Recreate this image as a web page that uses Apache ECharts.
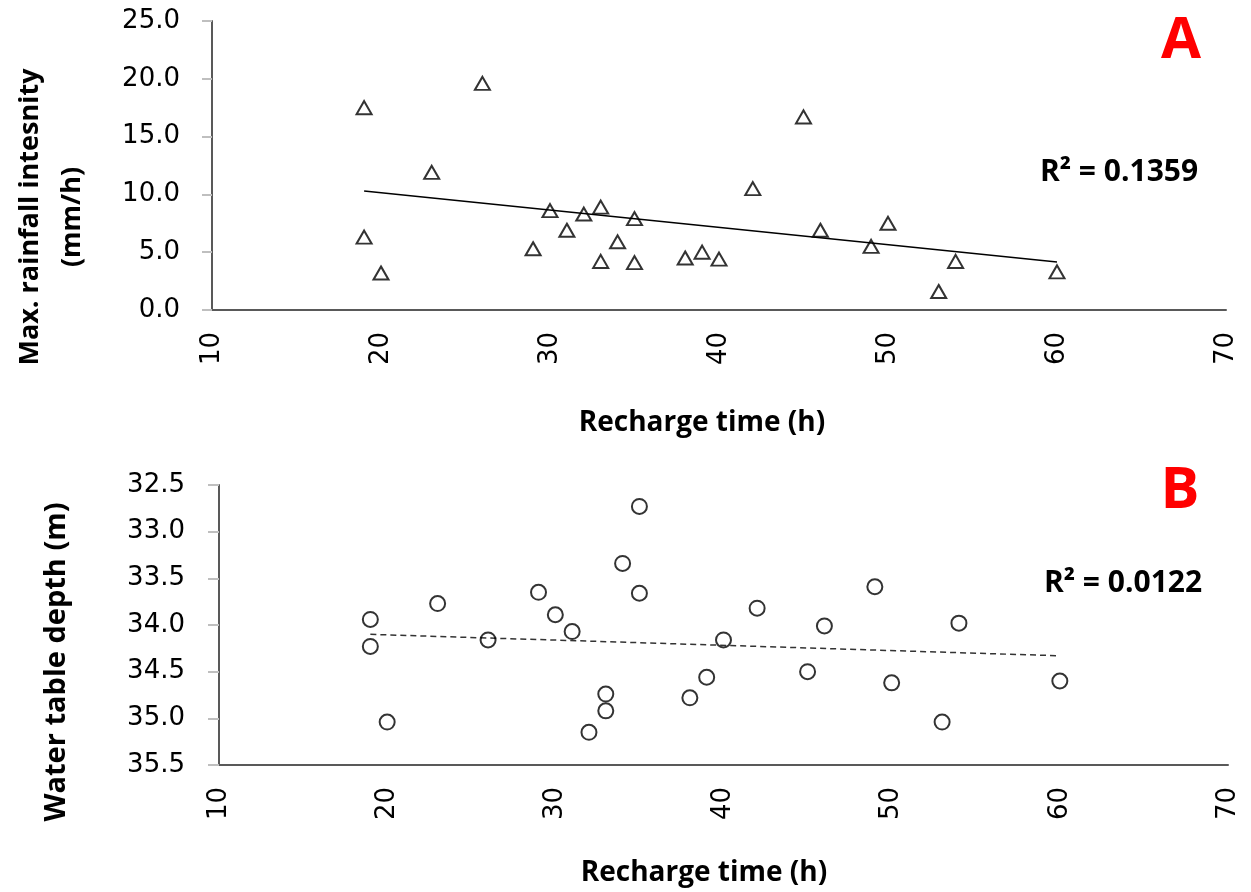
<!DOCTYPE html>
<html>
<head>
<meta charset="utf-8">
<script src="https://cdn.jsdelivr.net/npm/echarts@6/dist/echarts.min.js"></script>
<style>
  html, body { margin: 0; padding: 0; background: #fff; }
  #chart { width: 1251px; height: 892px; }
</style>
</head>
<body>
<div id="chart"></div>
<script>
// ---- Data ----
const rainX = [19, 19, 20, 23, 26, 29, 30, 31, 32, 33, 33, 34, 35, 35, 38, 39, 40, 42, 45, 46, 49, 50, 53, 54, 60];
const rainY = [17.5, 6.3, 3.2, 11.9, 19.6, 5.3, 8.6, 6.9, 8.3, 8.9, 4.2, 5.9, 7.9, 4.1, 4.5, 5.0, 4.4, 10.5, 16.7, 6.9, 5.5, 7.5, 1.6, 4.2, 3.3];
const depthX = [19, 19, 20, 23, 26, 29, 30, 31, 32, 33, 33, 34, 35, 35, 38, 39, 40, 42, 45, 46, 49, 50, 53, 54, 60];
const depthY = [33.94, 34.23, 35.04, 33.77, 34.16, 33.65, 33.89, 34.07, 35.15, 34.74, 34.92, 33.34, 32.73, 33.66, 34.78, 34.56, 34.16, 33.82, 34.50, 34.01, 33.59, 34.62, 35.04, 33.98, 34.60];
const trendAX = [19, 60];
const trendAY = [10.3, 4.15];
const trendBX = [19, 60];
const trendBY = [34.10, 34.33];
const r2A = 'R\u00B2 = 0.1359';
const r2B = 'R\u00B2 = 0.0122';
const xTitle = 'Recharge time (h)';
const yTitleA = 'Max. rainfall intesnity\n(mm/h)';
const yTitleB = 'Water table depth (m)';
const panelA = 'A';
const panelB = 'B';

const pairs = (xs, ys) => xs.map((x, i) => [x, ys[i]]);

const tickFont = { fontFamily: 'DejaVu Sans', fontSize: 26, color: '#000' };
const axisLineStyle = { show: true, lineStyle: { color: '#595959', width: 2 } };

function xAxisCfg(gridIndex) {
  return {
    type: 'value', gridIndex, min: 10, max: 70, interval: 10,
    axisLine: axisLineStyle,
    axisTick: { show: false },
    splitLine: { show: false },
    axisLabel: Object.assign({ rotate: 90, margin: 22 }, tickFont)
  };
}

const chart = echarts.init(document.getElementById('chart'), null, { renderer: 'canvas' });

const titleFont = 'Open Sans';

chart.setOption({
  animation: false,
  backgroundColor: '#ffffff',
  grid: [
    { left: 212, top: 21, width: 1014, height: 289 },
    { left: 219, top: 485, width: 1009, height: 280 }
  ],
  xAxis: [xAxisCfg(0), xAxisCfg(1)],
  yAxis: [
    {
      type: 'value', gridIndex: 0, min: 0, max: 25, interval: 5,
      axisLine: axisLineStyle,
      axisTick: { show: true, length: 10, lineStyle: { color: '#bfbfbf', width: 2 } },
      splitLine: { show: false },
      axisLabel: Object.assign({ margin: 32, formatter: v => v.toFixed(1) }, tickFont)
    },
    {
      type: 'value', gridIndex: 1, min: 32.5, max: 35.5, interval: 0.5, inverse: true,
      axisLine: axisLineStyle,
      axisTick: { show: true, length: 11, lineStyle: { color: '#bfbfbf', width: 2 } },
      splitLine: { show: false },
      axisLabel: Object.assign({ margin: 34, formatter: v => v.toFixed(1) }, tickFont)
    }
  ],
  series: [
    {
      type: 'line', xAxisIndex: 0, yAxisIndex: 0,
      data: pairs(trendAX, trendAY),
      showSymbol: false, symbol: 'none',
      lineStyle: { color: '#000', width: 1.5 }, z: 1
    },
    {
      type: 'scatter', xAxisIndex: 0, yAxisIndex: 0,
      data: pairs(rainX, rainY),
      symbol: 'triangle', symbolSize: [15, 13],
      itemStyle: { color: 'rgba(255,255,255,0)', borderColor: '#000', borderWidth: 2 }, z: 2
    },
    {
      type: 'line', xAxisIndex: 1, yAxisIndex: 1,
      data: pairs(trendBX, trendBY),
      showSymbol: false, symbol: 'none',
      lineStyle: { color: '#333', width: 1.5, type: [6, 4] }, z: 1
    },
    {
      type: 'scatter', xAxisIndex: 1, yAxisIndex: 1,
      data: pairs(depthX, depthY),
      symbol: 'circle', symbolSize: 15,
      itemStyle: { color: 'rgba(255,255,255,0)', borderColor: '#000', borderWidth: 2 }, z: 2
    }
  ],
  graphic: [
    { type: 'text', x: 702, y: 423, style: { text: xTitle, font: 'bold 28px "' + titleFont + '"', fill: '#000', align: 'center', verticalAlign: 'middle' } },
    { type: 'text', x: 704, y: 873, style: { text: xTitle, font: 'bold 28px "' + titleFont + '"', fill: '#000', align: 'center', verticalAlign: 'middle' } },
    { type: 'text', x: 51, y: 217, rotation: Math.PI / 2, style: { text: yTitleA, font: 'bold 27px "' + titleFont + '"', fill: '#000', align: 'center', verticalAlign: 'middle', lineHeight: 42 } },
    { type: 'text', x: 57, y: 662, rotation: Math.PI / 2, style: { text: yTitleB, font: 'bold 29px "' + titleFont + '"', fill: '#000', align: 'center', verticalAlign: 'middle' } },
    { type: 'text', x: 1119, y: 172, style: { text: r2A, font: 'bold 30px "' + titleFont + '"', fill: '#000', align: 'center', verticalAlign: 'middle' } },
    { type: 'text', x: 1123, y: 583, style: { text: r2B, font: 'bold 30px "' + titleFont + '"', fill: '#000', align: 'center', verticalAlign: 'middle' } },
    { type: 'text', x: 1181, y: 41, style: { text: panelA, font: 'bold 58px "' + titleFont + '"', fill: '#ff0000', align: 'center', verticalAlign: 'middle' } },
    { type: 'text', x: 1180, y: 491, style: { text: panelB, font: 'bold 58px "' + titleFont + '"', fill: '#ff0000', align: 'center', verticalAlign: 'middle' } }
  ]
});
</script>
</body>
</html>
